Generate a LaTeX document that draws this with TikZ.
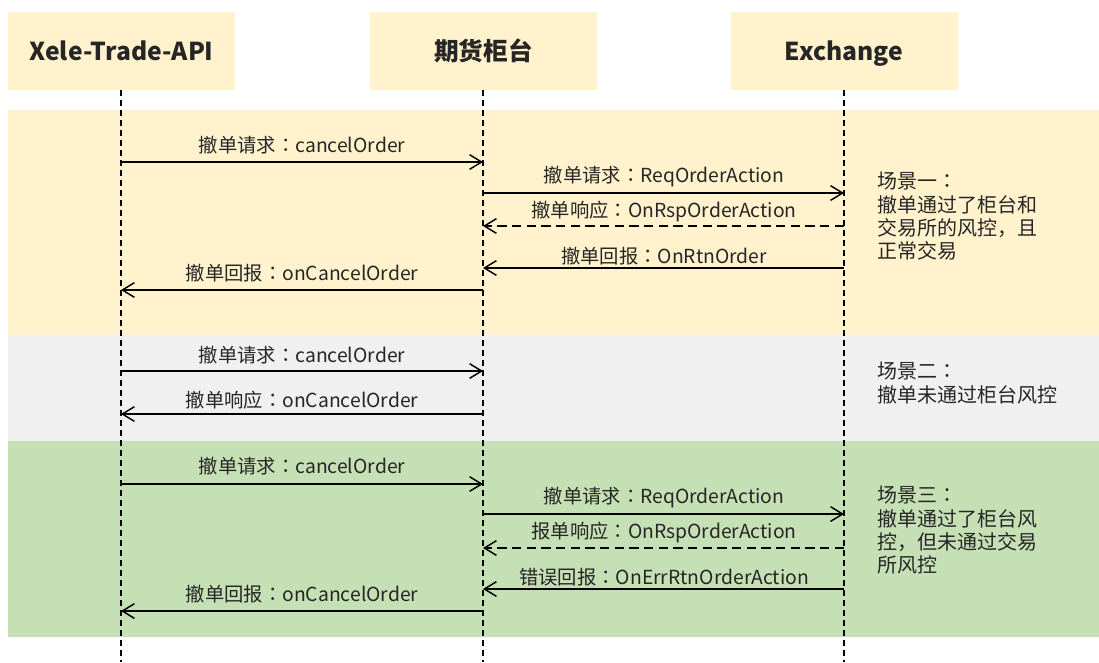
\documentclass[tikz,border=0pt]{standalone}
\usepackage{fontspec}
\setmainfont{Noto Sans CJK SC}
\newfontfamily\tcfont{Noto Sans CJK TC}
\newcommand{\fcolon}{{\tcfont ：}}
\usetikzlibrary{arrows.meta}
\definecolor{hdr}{HTML}{FFF2CC}
\definecolor{bandA}{HTML}{FFF2CC}
\definecolor{bandB}{HTML}{F0F0F0}
\definecolor{bandC}{HTML}{C5E0B4}
\definecolor{txt}{HTML}{262626}
\tikzset{
  hdrbox/.style={fill=hdr, draw=none, minimum width=227*0.75pt, minimum height=78*0.75pt, font=\fontsize{18.5}{20}\selectfont\bfseries, text=txt, inner sep=0pt, text height=16pt, text depth=2.4pt},
  life/.style={line width=1.1pt, dash pattern=on 4.5pt off 3pt},
  msg/.style={line width=1.1pt, -{Straight Barb[length=9pt,width=11pt,line width=1.1pt]}},
  reply/.style={msg, dash pattern=on 7pt off 4pt},
  lbl/.style={font=\fontsize{14.5}{16}\selectfont, text=txt, inner sep=0pt},
  note/.style={font=\fontsize{15}{17.4}\selectfont, text=txt, align=left, anchor=north west, inner sep=0pt}
}
\begin{document}
\begin{tikzpicture}[x=0.75pt,y=-0.75pt]
\useasboundingbox (0,0) rectangle (1099,662);
\fill[white] (0,0) rectangle (1099,662);
% bands
\fill[bandA] (8,110) rectangle (1099,335);
\fill[bandB] (8,335) rectangle (1099,441);
\fill[bandC] (8,441) rectangle (1099,637);
% headers
\node[hdrbox] (api) at (121.5,51) {Xele-Trade-API};
\node[hdrbox] (ctr) at (483.5,51) {期货柜台};
\node[hdrbox] (exc) at (844,51) {Exchange};
% lifeline ends
\coordinate (apiE) at (121,662);
\coordinate (ctrE) at (483,662);
\coordinate (excE) at (844,662);
\draw[life] (api.south -| apiE) -- (apiE);
\draw[life] (ctr.south -| ctrE) -- (ctrE);
\draw[life] (exc.south -| excE) -- (excE);
% message end points
\foreach \n/\y in {1/162,2/193,3/226,4/268,5/290,6/371,7/414,8/484,9/514,10/548,11/589,12/611}{
  \coordinate (A\n) at (121,\y);
  \coordinate (C\n) at (483,\y);
  \coordinate (E\n) at (844,\y);
}
% scene 1
\draw[msg] (A1) -- (C1);
\node[lbl] (l1) at (302,145) {撤单请求\fcolon cancelOrder};
\draw[msg] (C2) -- (E2);
\node[lbl] (l2) at (664,177) {撤单请求\fcolon ReqOrderAction};
\draw[reply] (E3) -- (C3);
\node[lbl] (l3) at (664,212) {撤单响应\fcolon OnRspOrderAction};
\draw[msg] (E4) -- (C4);
\node[lbl] (l4) at (664,256) {撤单回报\fcolon OnRtnOrder};
\draw[msg] (C5) -- (A5);
\node[lbl] (l5) at (302,273) {撤单回报\fcolon onCancelOrder};
% scene 2
\draw[msg] (A6) -- (C6);
\node[lbl] (l6) at (302,355) {撤单请求\fcolon cancelOrder};
\draw[msg] (C7) -- (A7);
\node[lbl] (l7) at (302,400) {撤单响应\fcolon onCancelOrder};
% scene 3
\draw[msg] (A8) -- (C8);
\node[lbl] (l8) at (302,466) {撤单请求\fcolon cancelOrder};
\draw[msg] (C9) -- (E9);
\node[lbl] (l9) at (664,498) {撤单请求\fcolon ReqOrderAction};
\draw[reply] (E10) -- (C10);
\node[lbl] (l10) at (664,533) {报单响应\fcolon OnRspOrderAction};
\draw[msg] (E11) -- (C11);
\node[lbl] (l11) at (664,577) {错误回报\fcolon OnErrRtnOrderAction};
\draw[msg] (C12) -- (A12);
\node[lbl] (l12) at (302,594) {撤单回报\fcolon onCancelOrder};
% notes
\node[note] (n1) at (877,172) {场景一\fcolon\\撤单通过了柜台和\\交易所的风控，且\\正常交易};
\node[note] (n2) at (877,362) {场景二\fcolon\\撤单未通过柜台风控};
\node[note] (n3) at (877,486) {场景三\fcolon\\撤单通过了柜台风\\控，但未通过交易\\所风控};
\end{tikzpicture}
\end{document}
